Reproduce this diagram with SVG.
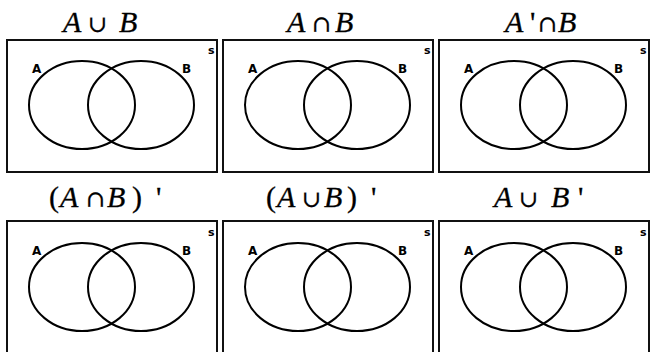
<svg xmlns="http://www.w3.org/2000/svg" width="652" height="352" viewBox="0 0 652 352">
<style>
.box{fill:#fff;stroke:#111;stroke-width:2}
.set{fill:none;stroke:#000;stroke-width:2}
.lbl{font-family:"DejaVu Sans","Liberation Sans",sans-serif;font-weight:bold;font-size:12px;fill:#000}
.s{font-family:"DejaVu Sans","Liberation Sans",sans-serif;font-weight:bold;font-size:11px;fill:#000}
.t{font-family:"Liberation Serif","DejaVu Serif",serif;font-size:30px;fill:#000;stroke:#000;stroke-width:0.3}
.i{font-style:italic}
.op{font-family:"DejaVu Serif","Liberation Serif",serif;font-size:23px}
</style>
<rect width="652" height="352" fill="#fff"/>
<defs>
<g id="venn">
<rect class="box" x="0" y="0" width="210" height="132"/>
<ellipse class="set" cx="75" cy="65" rx="53" ry="44"/>
<ellipse class="set" cx="134" cy="65" rx="53" ry="44"/>
</g>
<g id="vennB">
<rect class="box" x="0" y="0" width="210" height="140"/>
<ellipse class="set" cx="75" cy="66" rx="53" ry="44"/>
<ellipse class="set" cx="134" cy="66" rx="53" ry="44"/>
</g>
</defs>

<g id="p1">
<text class="t" y="32"><tspan class="i" x="63">A</tspan><tspan class="op" x="88">∪</tspan><tspan class="i" x="119">B</tspan></text>
<use href="#venn" x="7" y="40"/>
<text class="lbl" x="32" y="73">A</text><text class="lbl" x="182" y="73">B</text><text class="s" x="208" y="54">s</text>
</g>
<g id="p2">
<text class="t" y="32"><tspan class="i" x="287">A</tspan><tspan class="op" x="312">∩</tspan><tspan class="i" x="335">B</tspan></text>
<use href="#venn" x="223" y="40"/>
<text class="lbl" x="248" y="73">A</text><text class="lbl" x="398" y="73">B</text><text class="s" x="424" y="54">s</text>
</g>
<g id="p3">
<text class="t" y="32"><tspan class="i" x="505">A</tspan><tspan x="530">'</tspan><tspan class="op" x="538">∩</tspan><tspan class="i" x="558">B</tspan></text>
<use href="#venn" x="439" y="40"/>
<text class="lbl" x="464" y="73">A</text><text class="lbl" x="614" y="73">B</text><text class="s" x="640" y="54">s</text>
</g>

<g id="p4">
<text class="t" y="207"><tspan x="49">(</tspan><tspan class="i" x="60">A</tspan><tspan class="op" x="86">∩</tspan><tspan class="i" x="107">B</tspan><tspan x="132">)</tspan><tspan x="156">'</tspan></text>
<use href="#vennB" x="7" y="221"/>
<text class="lbl" x="32" y="255">A</text><text class="lbl" x="182" y="255">B</text><text class="s" x="208" y="236">s</text>
</g>
<g id="p5">
<text class="t" y="207"><tspan x="266">(</tspan><tspan class="i" x="277">A</tspan><tspan class="op" x="302">∪</tspan><tspan class="i" x="324">B</tspan><tspan x="347">)</tspan><tspan x="371">'</tspan></text>
<use href="#vennB" x="223" y="221"/>
<text class="lbl" x="248" y="255">A</text><text class="lbl" x="398" y="255">B</text><text class="s" x="424" y="236">s</text>
</g>
<g id="p6">
<text class="t" y="207"><tspan class="i" x="494">A</tspan><tspan class="op" x="519">∪</tspan><tspan class="i" x="551">B</tspan><tspan x="578">'</tspan></text>
<use href="#vennB" x="439" y="221"/>
<text class="lbl" x="464" y="255">A</text><text class="lbl" x="614" y="255">B</text><text class="s" x="640" y="236">s</text>
</g>
</svg>
